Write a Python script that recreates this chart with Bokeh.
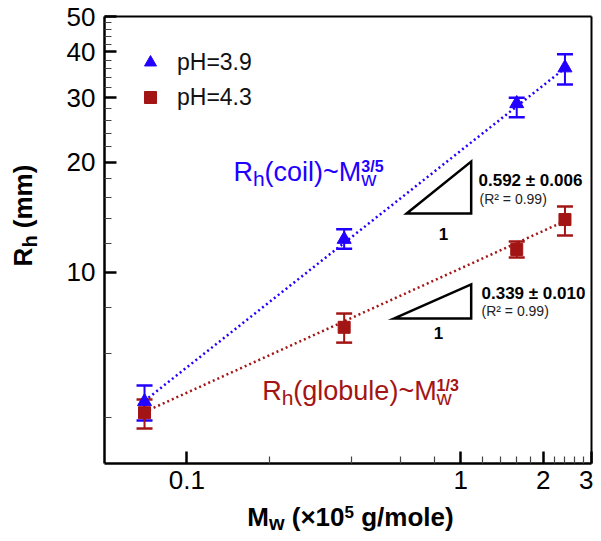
from math import log10, pi
from bokeh.plotting import figure
from bokeh.models import (ColumnDataSource, Whisker, TeeHead, FixedTicker, Label,
                          CustomJSTickFormatter, Range1d, LogAxis)
from bokeh.embed import file_html
from bokeh.resources import INLINE

# ---------------- data ----------------
mw = [0.07, 0.375, 1.6, 2.4]
rh_ph39 = [4.43, 12.3, 28.9, 36.2]
rh_ph39_upper = [4.90, 13.1, 30.0, 39.4]
rh_ph39_lower = [3.93, 11.6, 26.5, 32.6]
rh_ph43 = [4.13, 7.07, 11.54, 13.93]
rh_ph43_upper = [4.49, 7.71, 12.13, 15.12]
rh_ph43_lower = [3.74, 6.42, 10.97, 12.60]
fit_mw = [0.07, 2.4]
fit_ph39 = [4.45, 36.1]
fit_ph43 = [4.15, 13.8]
slope_tri_upper_x = [0.634, 1.091, 1.091]
slope_tri_upper_y = [14.47, 20.07, 14.47]
slope_tri_lower_x = [0.569, 1.091, 1.091]
slope_tri_lower_y = [7.47, 9.26, 7.47]
series_labels = ["pH=3.9", "pH=4.3"]
x_ticks = [0.1, 1, 2, 3]
x_minor_ticks = [0.2, 0.4, 0.6, 0.8, 1.2, 1.4, 1.6, 1.8, 2.2, 2.4, 2.6, 2.8]
y_ticks = [10, 20, 30, 40, 50]
y_minor_ticks = [4, 6, 8, 12, 14, 16, 18, 22, 24, 26, 28, 32, 34, 36, 38, 42, 44, 46, 48]
slope_text_coil = "0.592 ± 0.006"
slope_text_glob = "0.339 ± 0.010"
r2_text = "(R² = 0.99)"

X0, X1 = 0.05, 3.0   # plotted box limits
Y0, Y1 = 3.0, 50.0

BLUE = "#2200ff"
RED = "#a31414"
FONT = "Liberation Sans"

W, H = 593, 533
# pixel position of the plotted box inside the canvas
FL, FR, FT, FB = 104, 591, 16, 463


def dx(px):
    return 10 ** (log10(X0) + (px - FL) / (FR - FL) * (log10(X1) - log10(X0)))


def dy(py):
    return 10 ** (log10(Y0) + (FB - py) / (FB - FT) * (log10(Y1) - log10(Y0)))


W_REG = {' ': 278, '(': 333, ')': 333, '~': 584, '=': 584, '.': 278, '/': 278,
         'R': 722, 'M': 833, 'H': 722, 'c': 500, 'o': 556, 'i': 222, 'l': 222,
         'g': 556, 'b': 556, 'u': 556, 'e': 556, 'h': 556, 'w': 722, 'p': 556,
         'm': 833, '×': 584}
W_BOLD = {' ': 278, '(': 333, ')': 333, '~': 584, '.': 278, '/': 278, 'R': 722,
          'M': 833, 'h': 611, 'w': 778, 'm': 889, '×': 584, 'g': 611, 'o': 611,
          'l': 278, 'e': 556}


def twidth(t, size, bold):
    tab = W_BOLD if bold else W_REG
    return sum((556 if ch.isdigit() else tab.get(ch, 556)) for ch in t) * size / 1000.0


p = figure(width=W, height=H, x_axis_type="log", y_axis_type="log",
           x_range=Range1d(dx(0), dx(W)), y_range=Range1d(dy(H), dy(0)),
           output_backend="svg", toolbar_location=None,
           min_border_left=0, min_border_right=0, min_border_top=0, min_border_bottom=0)
p.background_fill_color = "white"
p.border_fill_color = "white"
p.xgrid.visible = False
p.ygrid.visible = False
p.outline_line_color = None

xa, ya = p.xaxis[0], p.yaxis[0]
xa.fixed_location = Y0
xa.bounds = (X0, X1)
ya.fixed_location = X0
ya.bounds = (Y0, Y1)

for ax in (xa, ya):
    ax.axis_line_width = 2.5
    ax.axis_line_color = "black"
    ax.major_tick_in = 12
    ax.major_tick_out = 0
    ax.minor_tick_in = 7
    ax.minor_tick_out = 0
    ax.major_tick_line_width = 2.5
    ax.minor_tick_line_width = 1.2
    ax.minor_tick_line_color = "#444444"
    ax.major_label_text_font = FONT
    ax.major_label_text_font_size = "26px"
    ax.major_label_text_color = "black"
    ax.formatter = CustomJSTickFormatter(code="return String(tick)")

xa.ticker = FixedTicker(ticks=x_ticks, minor_ticks=x_minor_ticks)
ya.ticker = FixedTicker(ticks=y_ticks, minor_ticks=y_minor_ticks)
xa.major_label_standoff = 7
ya.major_label_standoff = 9

# top and right edges of the box: bare axes without ticks
top_ax = LogAxis(fixed_location=Y1, bounds=(X0, X1), ticker=FixedTicker(ticks=[]),
                 axis_line_width=2, major_label_text_font_size="0px")
right_ax = LogAxis(fixed_location=X1, bounds=(Y0, Y1), ticker=FixedTicker(ticks=[]),
                   axis_line_width=2, major_label_text_font_size="0px")
p.add_layout(top_ax, "above")
p.add_layout(right_ax, "right")

# fit lines
p.line(fit_mw, fit_ph39, line_color=BLUE, line_width=2.5, line_dash="2 3")
p.line(fit_mw, fit_ph43, line_color=RED, line_width=2.5, line_dash="2 3")

# error bars
src39 = ColumnDataSource(dict(x=mw, y=rh_ph39, upper=rh_ph39_upper, lower=rh_ph39_lower))
src43 = ColumnDataSource(dict(x=mw, y=rh_ph43, upper=rh_ph43_upper, lower=rh_ph43_lower))
for src, col in ((src39, BLUE), (src43, RED)):
    wh = Whisker(source=src, base="x", upper="upper", lower="lower", dimension="height",
                 line_color=col, line_width=2,
                 upper_head=TeeHead(size=16, line_color=col, line_width=2.5),
                 lower_head=TeeHead(size=16, line_color=col, line_width=2.5))
    p.add_layout(wh)

p.scatter("x", "y", source=src39, marker="triangle", size=14, color=BLUE,
          legend_label=series_labels[0])
p.scatter("x", "y", source=src43, marker="square", size=12, color=RED,
          legend_label=series_labels[1])

lg = p.legend[0]
lg.padding = 0
lg.margin = 0
lg.spacing = 5
lg.glyph_width = 30
lg.glyph_height = 30
lg.label_height = 30
lg.label_standoff = 12
lg.location = (135, H - 47 - 65)
lg.label_text_font = FONT
lg.label_text_font_size = "23px"
lg.label_text_color = "#111111"
lg.border_line_color = None
lg.background_fill_alpha = 0

# slope triangles
p.patch(slope_tri_upper_x, slope_tri_upper_y, fill_color=None, line_color="black",
        line_width=2.5, line_join="miter")
p.patch(slope_tri_lower_x, slope_tri_lower_y, fill_color=None, line_color="black",
        line_width=2.5, line_join="miter")

BASE_FIX = 0.36  # empirical: rendered text sits this many em below the anchor


def lab(px, py, text, size, bold=False, color="black", align="left", angle=0.0):
    if angle:
        px = px - BASE_FIX * size
    else:
        py = py - BASE_FIX * size
    p.add_layout(Label(x=dx(px), y=dy(py), text=text, text_font=FONT,
                       text_font_size=f"{size}px",
                       text_font_style="bold" if bold else "normal",
                       text_color=color, text_align=align,
                       text_baseline="alphabetic", angle=angle))


def composite(pieces, center, baseline, color="black", rotated=False):
    """pieces: (text, size, shift_up_px, bold, stacked_with_previous)"""
    x = 0.0
    items = []
    prev_start, prev_w = 0.0, 0.0
    for (t, size, shift, bold, stack) in pieces:
        lead = len(t) - len(t.lstrip(" "))
        vis = t.lstrip(" ")
        w = twidth(vis, size, bold)
        lead_w = twidth(" " * lead, size, bold)
        if stack:
            start = prev_start
            x = start + max(prev_w, w)
            prev_w = max(prev_w, w)
        else:
            start = x + lead_w
            x = start + w
            prev_start, prev_w = start, w
        items.append((vis, size, shift, bold, start))
    total = x
    for (t, size, shift, bold, s) in items:
        if rotated:
            lab(baseline - shift, center + total / 2 - s, t, size, bold, color, angle=pi / 2)
        else:
            lab(center - total / 2 + s, baseline - shift, t, size, bold, color)


# curve annotations
composite([("R", 27, 0, False, False), ("h", 21, -5, False, False),
           ("(coil)~M", 27, 0, False, False), ("w", 21, -5, False, False),
           ("3/5", 16, 9, True, True)], 308, 181, BLUE)
composite([("R", 27, 0, False, False), ("h", 21, -5, False, False),
           ("(globule)~M", 27, 0, False, False), ("w", 21, -5, False, False),
           ("1/3", 16, 9, True, True)], 360, 400, RED)

# slope texts
lab(478, 186, slope_text_coil, 17, bold=True)
lab(479, 204, r2_text, 14, color="#222222")
lab(443, 240, "1", 17, bold=True, align="center")
lab(481, 299, slope_text_glob, 17, bold=True)
lab(481, 316, r2_text, 14, color="#222222")
lab(438, 339, "1", 17, bold=True, align="center")

# axis titles
composite([("M", 26, 0, True, False), ("w", 20, -4, True, False),
           (" (×10", 26, 0, True, False), ("5", 17, 8, True, False),
           (" g/mole)", 26, 0, True, False)], 350, 526)
composite([("R", 26, 0, True, False), ("h", 20, -5, True, False),
           (" (mm)", 26, 0, True, False)], 215, 32, rotated=True)

open("out.html", "w").write(file_html(p, INLINE))
